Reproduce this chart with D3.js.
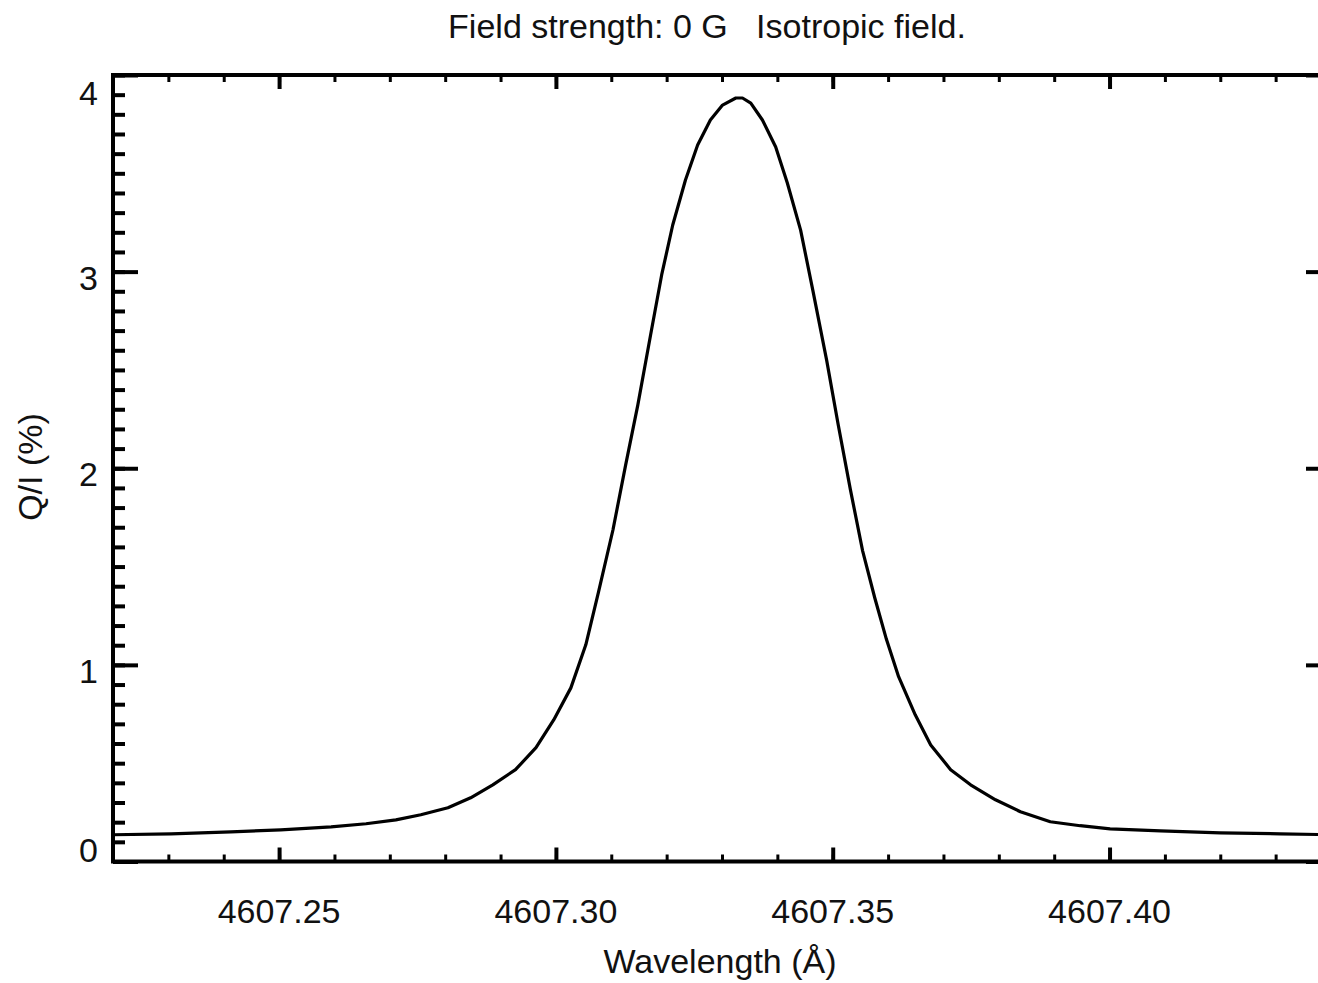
<!DOCTYPE html>
<html>
<head>
<meta charset="utf-8">
<script src="https://cdn.jsdelivr.net/npm/d3@7"></script>
<style>
  body { margin: 0; background: #fff; }
  svg { display: block; }
  text { font-family: "Liberation Sans", Arial, Helvetica, sans-serif; fill: #111; white-space: pre; }
</style>
</head>
<body>
<svg id="canvas" width="1318" height="983"></svg>
<script>
// wavelength samples (Angstrom) and Q/I (%)
const wavelength = [
  4607.2200, 4607.2305, 4607.2413, 4607.2503, 4607.2594, 4607.2657, 4607.2711,
  4607.2756, 4607.2805, 4607.2846, 4607.2886, 4607.2927, 4607.2964, 4607.2996,
  4607.3027, 4607.3054, 4607.3077, 4607.3103, 4607.3126, 4607.3148, 4607.3171,
  4607.3191, 4607.3211, 4607.3234, 4607.3256, 4607.3279, 4607.3301, 4607.3325,
  4607.3337, 4607.3352, 4607.3373, 4607.3397, 4607.3418, 4607.3442, 4607.3464,
  4607.3489, 4607.3510, 4607.3532, 4607.3554, 4607.3576, 4607.3597, 4607.3619,
  4607.3649, 4607.3677, 4607.3713, 4607.3749, 4607.3794, 4607.3839, 4607.3893,
  4607.3947, 4607.4001, 4607.4092, 4607.4200, 4607.4308, 4607.4400
];
const qOverI = [
  0.136, 0.141, 0.151, 0.161, 0.176, 0.192, 0.212,
  0.238, 0.273, 0.324, 0.390, 0.467, 0.579, 0.720,
  0.883, 1.102, 1.371, 1.686, 2.017, 2.322, 2.678,
  2.983, 3.237, 3.466, 3.644, 3.771, 3.847, 3.883,
  3.883, 3.857, 3.771, 3.634, 3.451, 3.211, 2.906,
  2.550, 2.220, 1.890, 1.580, 1.340, 1.130, 0.940,
  0.746, 0.593, 0.467, 0.390, 0.314, 0.253, 0.202,
  0.182, 0.166, 0.156, 0.146, 0.141, 0.136
];
const majorX = [4607.25, 4607.30, 4607.35, 4607.40];
const majorY = [0, 1, 2, 3, 4];
const xLabels = ["4607.25", "4607.30", "4607.35", "4607.40"];
const yLabels = ["0", "1", "2", "3", "4"];
const title = "Field strength: 0 G   Isotropic field.";
const xTitle = "Wavelength (\u00C5)";
const yTitle = "Q/I (%)";

const svg = d3.select("#canvas");
const x = d3.scaleLinear().domain([4607.22, 4607.44]).range([113, 1331]);
const y = d3.scaleLinear().domain([0, 4]).range([861.5, 75]);

function styleAxis(g, width) {
  g.select(".domain").remove();
  g.selectAll(".tick line").attr("stroke", "#000").attr("stroke-width", width);
}

// minor ticks
svg.append("g").attr("transform", `translate(0,${y(0)})`)
  .call(d3.axisBottom(x).tickValues(x.ticks(22)).tickSize(-7).tickFormat(""))
  .call(styleAxis, 3);
svg.append("g").attr("transform", `translate(0,${y(4)})`)
  .call(d3.axisTop(x).tickValues(x.ticks(22)).tickSize(-7).tickFormat(""))
  .call(styleAxis, 3);
svg.append("g").attr("transform", `translate(${x(4607.22)},0)`)
  .call(d3.axisLeft(y).tickValues(y.ticks(40)).tickSize(-12).tickFormat(""))
  .call(styleAxis, 4);
svg.append("g").attr("transform", `translate(${x(4607.44)},0)`)
  .call(d3.axisRight(y).tickValues(y.ticks(40)).tickSize(-12).tickFormat(""))
  .call(styleAxis, 4);

// major ticks
svg.append("g").attr("transform", `translate(0,${y(0)})`)
  .call(d3.axisBottom(x).tickValues(majorX).tickSize(-14).tickFormat(""))
  .call(styleAxis, 4);
svg.append("g").attr("transform", `translate(0,${y(4)})`)
  .call(d3.axisTop(x).tickValues(majorX).tickSize(-14).tickFormat(""))
  .call(styleAxis, 4);
svg.append("g").attr("transform", `translate(${x(4607.22)},0)`)
  .call(d3.axisLeft(y).tickValues(majorY).tickSize(-25).tickFormat(""))
  .call(styleAxis, 4);
svg.append("g").attr("transform", `translate(${x(4607.44)},0)`)
  .call(d3.axisRight(y).tickValues(majorY).tickSize(-25).tickFormat(""))
  .call(styleAxis, 4);

// frame
svg.append("rect")
  .attr("x", x(4607.22)).attr("y", y(4))
  .attr("width", x(4607.44) - x(4607.22)).attr("height", y(0) - y(4))
  .attr("fill", "none").attr("stroke", "#000").attr("stroke-width", 4);

// curve
const line = d3.line().x((d, i) => x(wavelength[i])).y((d) => y(d));
svg.append("path")
  .datum(qOverI)
  .attr("d", line)
  .attr("fill", "none")
  .attr("stroke", "#000")
  .attr("stroke-width", 3.2)
  .attr("stroke-linejoin", "round");

// tick labels
svg.selectAll(".xlab")
  .data(majorX)
  .enter()
  .append("text")
  .attr("class", "xlab")
  .attr("x", (d) => x(d))
  .attr("y", 923)
  .attr("text-anchor", "middle")
  .attr("font-size", 34)
  .text((d, i) => xLabels[i]);

svg.selectAll(".ylab")
  .data(majorY)
  .enter()
  .append("text")
  .attr("class", "ylab")
  .attr("x", 98)
  .attr("y", (d) => Math.min(Math.max(y(d) + 18, 105), 862))
  .attr("text-anchor", "end")
  .attr("font-size", 34)
  .text((d, i) => yLabels[i]);

// titles
svg.append("text")
  .attr("x", 707).attr("y", 38)
  .attr("text-anchor", "middle")
  .attr("font-size", 34)
  .attr("xml:space", "preserve")
  .text(title);
svg.append("text")
  .attr("x", 720).attr("y", 973)
  .attr("text-anchor", "middle")
  .attr("font-size", 34)
  .text(xTitle);
svg.append("text")
  .attr("transform", "translate(42,467) rotate(-90)")
  .attr("text-anchor", "middle")
  .attr("font-size", 34)
  .text(yTitle);
</script>
</body>
</html>
